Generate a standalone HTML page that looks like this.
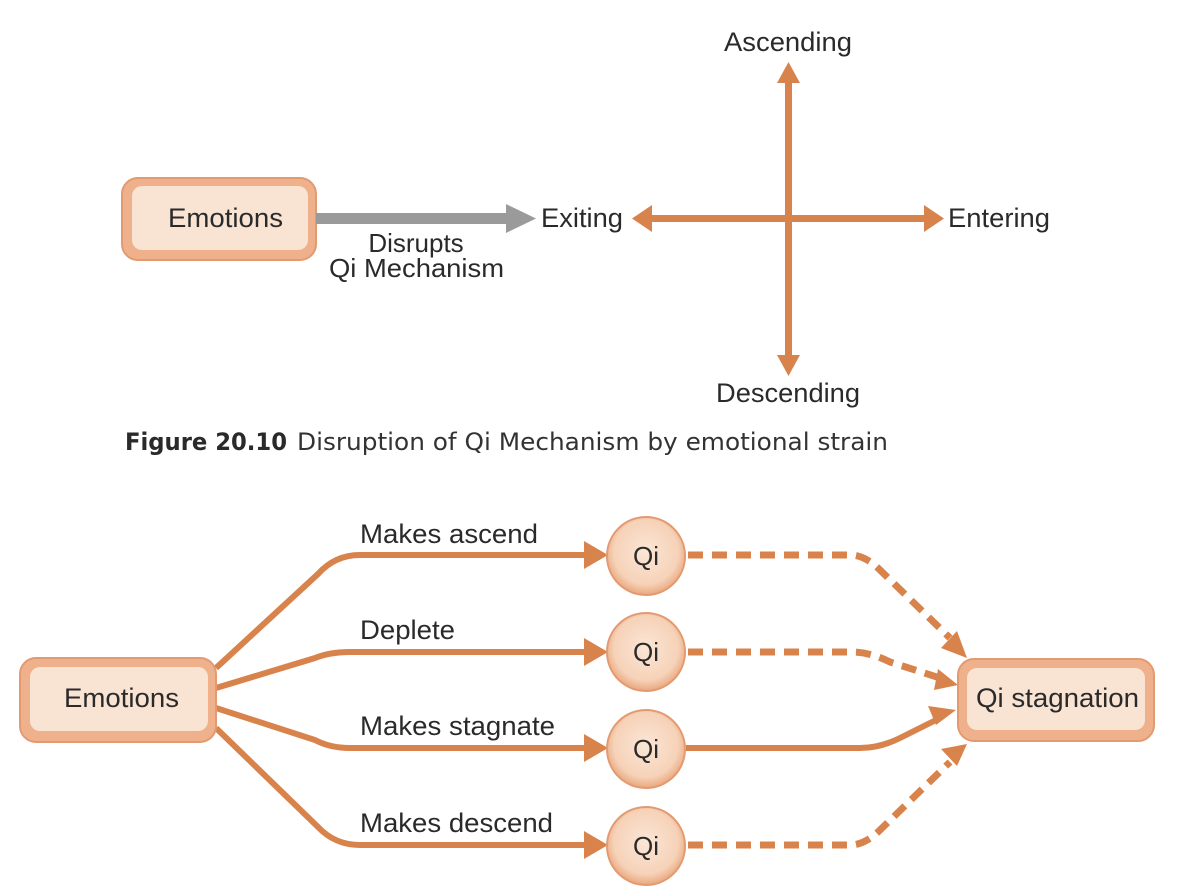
<!DOCTYPE html>
<html><head><meta charset="utf-8"><style>
html,body{margin:0;padding:0;background:#fff;}
svg{display:block;}
text{font-family:"Liberation Sans",sans-serif;fill:#2a2a2a;}
</style></head><body>
<svg width="1187" height="886" viewBox="0 0 1187 886" xmlns="http://www.w3.org/2000/svg">
<defs>
<radialGradient id="cg" cx="50%" cy="45%" r="55%">
<stop offset="0" stop-color="#fbe6d6"/><stop offset="0.75" stop-color="#f6d2b8"/><stop offset="1" stop-color="#e9a77d"/>
</radialGradient>
</defs>
<!-- Top figure -->
<rect x="122" y="178" width="194" height="82" rx="16" fill="#eeb18c" stroke="#e39a70" stroke-width="2"/>
<rect x="132" y="186" width="176" height="64" rx="10" fill="#f9e3d3"/>
<text x="168" y="227" font-size="27" textLength="115" lengthAdjust="spacingAndGlyphs">Emotions</text>
<rect x="316" y="213" width="196" height="11" fill="#9a9a9a"/>
<polygon points="506,204 536,218.5 506,233" fill="#9a9a9a"/>
<text x="416" y="252" font-size="26" text-anchor="middle">Disrupts</text>
<text x="329" y="277" font-size="26" textLength="175" lengthAdjust="spacingAndGlyphs">Qi Mechanism</text>
<text x="541" y="227" font-size="27" textLength="82" lengthAdjust="spacingAndGlyphs">Exiting</text>
<text x="948" y="227" font-size="27" textLength="102" lengthAdjust="spacingAndGlyphs">Entering</text>
<text x="724" y="51" font-size="27" textLength="128" lengthAdjust="spacingAndGlyphs">Ascending</text>
<text x="716" y="402" font-size="27" textLength="144" lengthAdjust="spacingAndGlyphs">Descending</text>
<g fill="#d9834c">
<rect x="650" y="215" width="276" height="7"/>
<polygon points="632,218.5 652,205 652,232"/>
<polygon points="944,218.5 924,205 924,232"/>
<rect x="785" y="80" width="7" height="278"/>
<polygon points="788.5,62 777,83 800,83"/>
<polygon points="788.5,376 777,355 800,355"/>
</g>
<text x="125" y="450" font-size="24" font-weight="bold" textLength="162" lengthAdjust="spacingAndGlyphs" style="font-family:'DejaVu Sans Condensed','Liberation Sans Narrow','Liberation Sans',sans-serif">Figure 20.10</text>
<text x="297" y="450" font-size="24" textLength="591" lengthAdjust="spacingAndGlyphs" style="font-family:'DejaVu Sans Condensed','Liberation Sans Narrow','Liberation Sans',sans-serif;fill:#333">Disruption of Qi Mechanism by emotional strain</text>
<!-- Bottom figure -->
<g fill="none" stroke="#d9834c" stroke-width="6">
<path d="M216,668 L318,574 Q335,555 360,555 L588,555"/>
<path d="M216,688 L315,658 Q330,652 350,652 L588,652"/>
<path d="M216,708 L315,740 Q330,748 350,748 L588,748"/>
<path d="M216,728 L318,827 Q335,845 360,845 L588,845"/>
<path d="M686,748 L860,748 Q880,748 900,738 L940,718"/>
</g>
<g fill="none" stroke="#d9834c" stroke-width="7" stroke-dasharray="15,9">
<path d="M688,555 L850,555 Q865,555 880,570 L950,638"/>
<path d="M688,652 L852,652 Q870,652 890,662 L940,678"/>
<path d="M688,845 L850,845 Q865,845 880,830 L950,762"/>
</g>
<g fill="#d9834c">
<polygon points="608,555 584,541 584,569"/>
<polygon points="608,652 584,638 584,666"/>
<polygon points="608,748 584,734 584,762"/>
<polygon points="608,845 584,831 584,859"/>
<polygon points="967,658 941,648 957,631"/>
<polygon points="958,685 934,690 938,669"/>
<polygon points="956,710 936,725 928,706"/>
<polygon points="967,744 957,766 941,749"/>
</g>
<g stroke="#e39a70" stroke-width="2" fill="url(#cg)">
<circle cx="646" cy="556" r="39"/>
<circle cx="646" cy="652" r="39"/>
<circle cx="646" cy="749" r="39"/>
<circle cx="646" cy="846" r="39"/>
</g>
<g font-size="26" text-anchor="middle">
<text x="646" y="565">Qi</text>
<text x="646" y="661">Qi</text>
<text x="646" y="758">Qi</text>
<text x="646" y="855">Qi</text>
</g>
<g font-size="27">
<text x="360" y="543" textLength="178" lengthAdjust="spacingAndGlyphs">Makes ascend</text>
<text x="360" y="639" textLength="95" lengthAdjust="spacingAndGlyphs">Deplete</text>
<text x="360" y="735" textLength="195" lengthAdjust="spacingAndGlyphs">Makes stagnate</text>
<text x="360" y="832" textLength="193" lengthAdjust="spacingAndGlyphs">Makes descend</text>
</g>
<rect x="20" y="658" width="196" height="84" rx="16" fill="#eeb18c" stroke="#e39a70" stroke-width="2"/>
<rect x="30" y="667" width="178" height="64" rx="10" fill="#f9e3d3"/>
<text x="64" y="707" font-size="27" textLength="115" lengthAdjust="spacingAndGlyphs">Emotions</text>
<rect x="958" y="659" width="196" height="82" rx="16" fill="#eeb18c" stroke="#e39a70" stroke-width="2"/>
<rect x="967" y="668" width="178" height="62" rx="10" fill="#f9e3d3"/>
<text x="976" y="707" font-size="27" textLength="163" lengthAdjust="spacingAndGlyphs">Qi stagnation</text>
</svg>
</body></html>
